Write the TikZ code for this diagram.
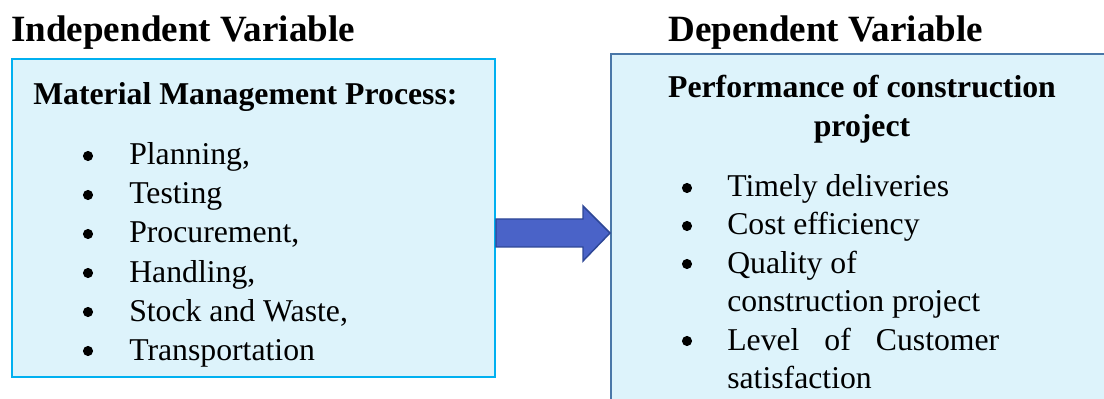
\documentclass[tikz,border=0pt]{standalone}
\usepackage{fontspec}
\setmainfont{Liberation Serif}
\usetikzlibrary{calc}
\definecolor{boxfill}{HTML}{DDF3FB}
\definecolor{leftedge}{HTML}{00B0F0}
\definecolor{rightedge}{HTML}{4A77A8}
\definecolor{arrowfill}{HTML}{4A63C8}
\definecolor{arrowedge}{HTML}{2E4796}
\begin{document}
\begin{tikzpicture}[x=0.75pt,y=-0.75pt,
  panel/.style={draw,line width=1.5pt,fill=boxfill,inner sep=0pt,anchor=north west},
  bodytext/.style={font=\fontsize{23.8}{29}\selectfont,anchor=base west,inner sep=0pt},
  boldtext/.style={bodytext,font=\fontsize{23.8}{29}\selectfont\bfseries},
  centred/.style={boldtext,anchor=base},
  bulletmark/.style={circle,fill=black,inner sep=0pt,minimum size=7.6pt},
  heading/.style={font=\fontsize{27.8}{33}\selectfont\bfseries,anchor=base west,inner sep=0pt},
  blockarrow/.style={fill=arrowfill,draw=arrowedge,line width=1.1pt,line join=miter}]
\useasboundingbox (0,0) rectangle (1104,399);
\clip (0,0) rectangle (1104,399);

% headings
\node[heading] (indep) at (11,42) {Independent Variable};
\node[heading] (dep) at (668,42) {Dependent Variable};

% the two panels
\node[panel,draw=leftedge,minimum width=362.25pt,minimum height=238.5pt] (L) at (11,58) {};
\node[panel,draw=rightedge,minimum width=400pt,minimum height=267.75pt] (R) at (610,53) {};

% block arrow from the left panel to the right one
\coordinate (mid) at (0,233);
\draw[blockarrow]
  ($(L.east |- mid)+(0,-14)$) -- ($(R.west |- mid)+(-27,-14)$)
  -- ($(R.west |- mid)+(-27,-27)$) -- (R.west |- mid)
  -- ($(R.west |- mid)+(-27,28)$) -- ($(R.west |- mid)+(-27,14)$)
  -- ($(L.east |- mid)+(0,14)$) -- cycle;

% left panel contents
\node[boldtext] (lt) at (33,105) {Material Management Process:};
\foreach \y/\t [count=\i] in {165/{Planning,},204/Testing,243/{Procurement,},282/{Handling,},321/{Stock and Waste,},360/Transportation}{
  \node[bulletmark] (lb\i) at (88,\y-9) {};
  \node[bodytext] (li\i) at (129,\y) {\t};
}

% right panel contents
\node[centred] (rt1) at (862,98) {Performance of construction};
\node[centred] (rt2) at (862,137) {project};
\foreach \y/\t [count=\i] in {197/{Timely deliveries},235/{Cost efficiency},273/{Quality of},350/{\makebox[204pt][s]{Level of Customer}}}{
  \node[bulletmark] (rb\i) at (687,\y-9) {};
  \node[bodytext] (ri\i) at (727,\y) {\t};
}
\node[bodytext] (rc1) at (727,311) {construction project};
\node[bodytext] (rc2) at (727,388) {satisfaction};
\end{tikzpicture}
\end{document}
